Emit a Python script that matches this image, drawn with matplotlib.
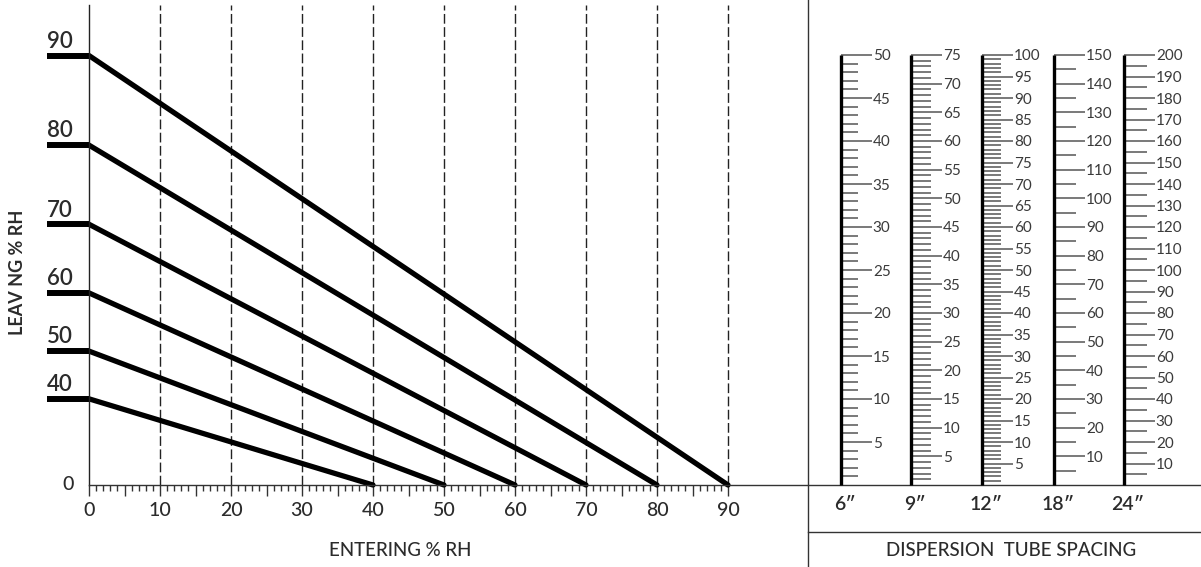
import numpy as np
import matplotlib
matplotlib.use('Agg')
import matplotlib.pyplot as plt
from matplotlib import font_manager
from matplotlib.lines import Line2D
from matplotlib.ticker import FixedLocator, FixedFormatter

# Leaving %RH curves: each runs from (0, level) down to (level, 0)
LEVELS = [40, 50, 60, 70, 80, 90]
GRID_X = [10, 20, 30, 40, 50, 60, 70, 80, 90]
X_MAJOR = list(range(0, 91, 5))
X_MINOR = [v for v in range(0, 91) if v % 5]
X_LABELS = [str(v) if v % 10 == 0 else '' for v in X_MAJOR]

# Dispersion tube spacing scales
SPACING_LABELS = ['6\u2033', '9\u2033', '12\u2033', '18\u2033', '24\u2033']
SCALE_MAX = [50, 75, 100, 150, 200]
SCALE_MAJOR = [5, 5, 5, 10, 10]
SCALE_MINOR = [1, 1, 1, 5, 5]

# pick a narrow font if we have one
available = {f.name for f in font_manager.fontManager.ttflist}
FONT = next((n for n in ['Liberation Sans Narrow', 'Lato', 'DejaVu Sans'] if n in available), 'DejaVu Sans')
plt.rcParams['font.family'] = [FONT, 'DejaVu Sans']

W, H = 1201, 567
TXT = '#2b2b2b'


def fx(px):
    return px / W


def fy(py):
    return 1 - py / H


# y axis of the chart is close to quadratic in the reference
QA, QB = 0.05235, 0.0603


def fwd(v):
    v = np.asarray(v, dtype=float)
    return QA * v * np.abs(v) + QB * v


def inv(d):
    d = np.asarray(d, dtype=float)
    return np.sign(d) * (-QB + np.sqrt(QB ** 2 + 4 * QA * np.abs(d))) / (2 * QA)


fig = plt.figure(figsize=(W / 100, H / 100), dpi=100)

# ---- left chart ----
x0, x90, y0, ytop = 89, 728, 485, 5
ax = fig.add_axes([fx(x0), fy(y0), fx(W - x0), (y0 - ytop) / H])
ax.set_yscale('function', functions=(fwd, inv))
ax.set_xlim(0, 90 * (W - x0) / (x90 - x0))
ax.set_ylim(0, float(inv(y0 - ytop)))
ax.patch.set_visible(False)

for s in ['top', 'right']:
    ax.spines[s].set_visible(False)
ax.spines['left'].set_color('#222222')
ax.spines['left'].set_linewidth(1.0)
ax.spines['bottom'].set_color('#333333')
ax.spines['bottom'].set_linewidth(1.0)

ax.vlines(GRID_X, 0, ax.get_ylim()[1], colors='#222222', linewidth=1.0,
          linestyles=(0, (7, 2.5)))

for lv in LEVELS:
    ax.plot([0, lv], [lv, 0], color='black', linewidth=3.8,
            solid_capstyle='round', clip_on=False)
    ax.annotate(str(lv), xy=(0, lv), xytext=(-30.5, 5.5), textcoords='offset points',
                ha='left', va='baseline', fontsize=16, fontweight='semibold', color=TXT)

ax.annotate('0', xy=(0, 0), xytext=(-11, 0), textcoords='offset points',
            ha='right', va='center', fontsize=14, fontweight='medium', color=TXT)

# stubs on the y axis are the major ticks
ax.yaxis.set_major_locator(FixedLocator(LEVELS))
ax.yaxis.set_minor_locator(FixedLocator([]))
ax.tick_params(axis='y', which='major', direction='out', length=30.5, width=4.3,
               color='black', labelleft=False)

ax.xaxis.set_major_locator(FixedLocator(X_MAJOR))
ax.xaxis.set_major_formatter(FixedFormatter(X_LABELS))
ax.xaxis.set_minor_locator(FixedLocator(X_MINOR))
ax.tick_params(axis='x', which='major', direction='out', length=8, width=1.0,
               color='#333333', labelsize=14, labelcolor=TXT, pad=4)
ax.tick_params(axis='x', which='minor', direction='out', length=4.3, width=1.0,
               color='#333333')
for t in ax.get_xticklabels():
    t.set_fontweight('medium')

fig.text(fx(400), fy(550), 'ENTERING % RH', ha='center', va='center',
         fontsize=13.5, fontweight='medium', color=TXT)
fig.text(fx(18), fy(272), 'LEAV NG % RH', ha='center', va='center', rotation=90,
         fontsize=13, fontweight='bold', color=TXT)

# ---- right panel frame ----
fig.add_artist(Line2D([fx(808), fx(808)], [0, 1], color='#333333', linewidth=1.0))
fig.add_artist(Line2D([fx(808), 1], [fy(532), fy(532)], color='#333333', linewidth=1.0))
fig.text(fx(1011), fy(551), 'DISPERSION  TUBE SPACING', ha='center', va='center',
         fontsize=13.5, fontweight='medium', color=TXT)

# ---- tube spacing scales ----
BAR_X = [841, 911, 982, 1054, 1124]
MINOR_LEN = [12.2, 14.4, 13.5, 16, 16.5]
bar_top = 55
for bx, lab, vmax, maj, mnr, mlen in zip(BAR_X, SPACING_LABELS, SCALE_MAX,
                                          SCALE_MAJOR, SCALE_MINOR, MINOR_LEN):
    sa = fig.add_axes([fx(bx) - 1e-4, fy(y0), 1e-4, (y0 - bar_top) / H])
    sa.patch.set_visible(False)
    for s in ['top', 'left', 'bottom']:
        sa.spines[s].set_visible(False)
    sa.spines['right'].set_linewidth(2.4)
    sa.spines['right'].set_color('black')
    sa.spines['right'].set_capstyle('butt')
    sa.set_ylim(0, vmax)
    sa.set_xticks([])
    sa.yaxis.tick_right()
    sa.yaxis.set_major_locator(FixedLocator(list(range(maj, vmax + 1, maj))))
    sa.yaxis.set_minor_locator(FixedLocator([v for v in range(mnr, vmax, mnr) if v % maj]))
    sa.tick_params(axis='y', which='major', direction='out', length=22.3, width=1.1,
                   color='#555555', labelsize=11, labelcolor='#3a3a3a', pad=0.6)
    sa.tick_params(axis='y', which='minor', direction='out', length=mlen, width=1.1,
                   color='#555555')
    fig.text(fx(bx + 4), fy(504), lab, ha='center', va='center', fontsize=14,
             fontweight='semibold', color=TXT)

fig.savefig('out.png', dpi=100)
